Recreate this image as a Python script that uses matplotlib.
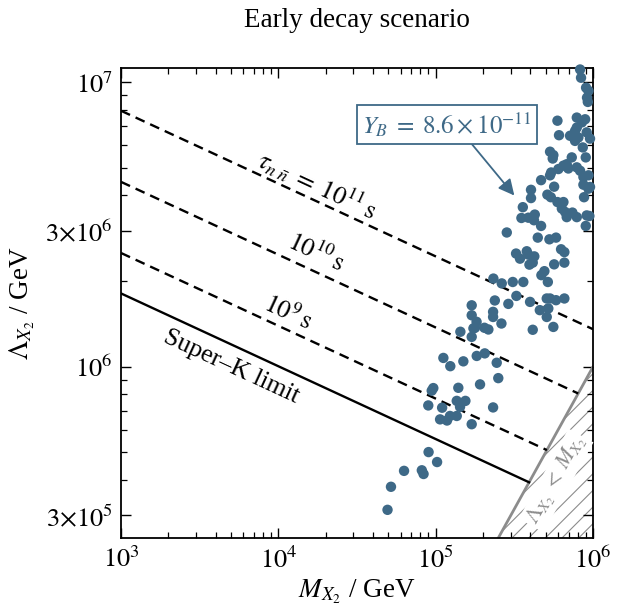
import numpy as np
import matplotlib
matplotlib.use("Agg")
import matplotlib.pyplot as plt
from matplotlib.ticker import FixedLocator, NullFormatter, LogLocator

plt.rcParams['font.family'] = ['Liberation Serif', 'DejaVu Serif']
plt.rcParams['mathtext.fontset'] = 'stix'
plt.rcParams['hatch.linewidth'] = 0.8

# ---- data -------------------------------------------------------------
# scatter points (log10 M_X2 / GeV, log10 Lambda_X2 / GeV)
logM_pts = [4.694, 4.716, 4.799, 4.912, 4.923, 4.955, 5.009, 4.953, 5.041, 5.134,
            5.189, 5.155, 5.365, 5.028, 5.072, 5.091, 5.134, 5.229, 4.985, 4.975,
            5.144, 5.282, 5.398, 5.049, 5.093, 5.176, 5.261, 5.312, 5.388, 5.157,
            5.229, 5.229, 5.229, 5.260, 5.250, 5.240, 5.310, 5.335, 5.365, 5.365,
            5.418, 5.376, 5.462, 5.513, 5.600, 5.706, 5.727, 5.765, 5.818, 5.662,
            5.716, 5.706, 5.748, 5.617, 5.367, 5.420, 5.490, 5.557, 5.713, 5.691,
            5.672, 5.753, 5.818, 5.818, 5.797, 5.596, 5.617, 5.511, 5.536, 5.579,
            5.589, 5.627, 5.452, 5.649, 5.723, 5.765, 5.554, 5.545, 5.589, 5.630,
            5.625, 5.670, 5.606, 5.606, 5.710, 5.732, 5.774, 5.812, 5.802, 5.823,
            5.869, 5.897, 5.833, 5.943, 5.960, 5.977, 5.954, 5.670, 5.727, 5.753,
            5.939, 5.939, 5.971, 5.780, 5.812, 5.833, 5.843, 5.734, 5.897, 5.918,
            5.727, 5.748, 5.744, 5.865, 5.954, 5.935, 5.784, 5.854, 5.886, 5.897,
            5.929, 5.950, 5.960, 5.981, 5.907, 5.886, 5.774, 5.897, 5.962, 5.967,
            5.956, 5.971, 5.924, 5.918, 5.981, 5.971]
logL_pts = [5.497, 5.578, 5.634, 5.636, 5.623, 5.700, 5.665, 5.864, 5.856, 5.880,
            5.880, 5.859, 5.857, 5.815, 5.811, 5.827, 5.827, 5.798, 5.925, 5.916,
            5.926, 5.938, 5.960, 6.031, 6.002, 6.019, 6.038, 6.047, 6.014, 6.123,
            6.105, 6.216, 6.181, 6.158, 6.137, 6.135, 6.137, 6.131, 6.193, 6.175,
            6.152, 6.233, 6.221, 6.249, 6.228, 6.240, 6.240, 6.234, 6.240, 6.199,
            6.205, 6.175, 6.140, 6.130, 6.310, 6.293, 6.298, 6.298, 6.298, 6.336,
            6.322, 6.360, 6.366, 6.403, 6.413, 6.359, 6.366, 6.398, 6.380, 6.406,
            6.394, 6.388, 6.472, 6.454, 6.448, 6.454, 6.561, 6.523, 6.524, 6.535,
            6.515, 6.495, 6.622, 6.593, 6.605, 6.596, 6.579, 6.579, 6.556, 6.544,
            6.542, 6.526, 6.526, 6.596, 6.532, 6.530, 6.495, 6.656, 6.673, 6.633,
            6.667, 6.640, 6.626, 6.695, 6.707, 6.712, 6.697, 6.683, 6.701, 6.689,
            6.756, 6.744, 6.732, 6.736, 6.736, 6.771, 6.814, 6.812, 6.829, 6.841,
            6.859, 6.870, 6.824, 6.802, 6.806, 6.794, 6.865, 6.876, 6.946, 6.931,
            6.981, 6.970, 7.016, 7.045, 6.632, 6.673]

# n-nbar oscillation lifetime contours (s)
tau_lines = [1e9, 1e10, 1e11]
tau_superK = 2.7e8
# contour model: log10 Lambda = logL0 + 0.25*log10(tau/1e9) - slope*(log10 M - 3)
logL0 = 6.40
slope = 0.256

x_ticks = [1e3, 1e4, 1e5, 1e6]
x_ticklabels = [r'$10^{3}$', r'$10^{4}$', r'$10^{5}$', r'$10^{6}$']
y_ticks = [3e5, 1e6, 3e6, 1e7]
y_ticklabels = [r'$3{\times}10^{5}$', r'$10^{6}$', r'$3{\times}10^{6}$', r'$10^{7}$']
xlim = (1e3, 1e6)
ylim = (2.5e5, 1.12e7)

YB_text = r'$Y_B\; =\; 8.6 \times 10^{-11}$'

dot_color = '#3e6987'
grey = '#8c8c8c'

# ---- figure -------------------------------------------------------------
fig = plt.figure(figsize=(6.25, 6.12), dpi=100)
ax_rect = [0.1936, 0.1209, 0.7552, 0.7675]
ax = fig.add_axes(ax_rect)
ax.set_xscale('log')
ax.set_yscale('log')
ax.set_xlim(*xlim)
ax.set_ylim(*ylim)

px_per_dec_x = ax_rect[2] * 625 / np.log10(xlim[1] / xlim[0])
px_per_dec_y = ax_rect[3] * 612 / np.log10(ylim[1] / ylim[0])


def contour(tau, M):
    return 10 ** (logL0 + 0.25 * np.log10(tau / 1e9) - slope * (np.log10(M) - 3))


def end_M(tau):
    # intersection with Lambda = M
    lm = (logL0 + 0.25 * np.log10(tau / 1e9) + 3 * slope) / (1 + slope)
    return min(10 ** lm, xlim[1])


for tau in tau_lines:
    M = np.logspace(3, np.log10(end_M(tau)), 200)
    ax.plot(M, contour(tau, M), color='black', lw=1.7,
            linestyle=(0, (4.2, 2.6)), zorder=3)

M = np.logspace(3, np.log10(end_M(tau_superK)), 200)
ax.plot(M, contour(tau_superK, M), color='black', lw=1.7, zorder=3)

# Lambda < M excluded region
Md = np.logspace(np.log10(ylim[0]), 6, 200)
ax.fill_between(Md, ylim[0], Md, facecolor='none', edgecolor=grey,
                hatch='//', linewidth=0, zorder=1)
ax.plot(Md, Md, color=grey, lw=2.0, zorder=2)

# scatter
ax.scatter(10 ** np.array(logM_pts), 10 ** np.array(logL_pts), s=56,
           color=dot_color, edgecolors='none', zorder=5, clip_on=False)

# labels on lines
ang = -np.degrees(np.arctan(slope * px_per_dec_y / px_per_dec_x))
fs_lab = 18.5
ax.text(10 ** 4.246, 10 ** 6.640, r'$\tau_{n\;\bar{n}}\; =\; 10^{11}\,\mathrm{s}$',
        rotation=ang, ha='center', va='center', rotation_mode='anchor', fontsize=fs_lab)
ax.text(10 ** 4.240, 10 ** 6.402, r'$10^{10}\,\mathrm{s}$',
        rotation=ang, ha='center', va='center', rotation_mode='anchor', fontsize=fs_lab)
ax.text(10 ** 4.062, 10 ** 6.192, r'$10^{9}\,\mathrm{s}$',
        rotation=ang, ha='center', va='center', rotation_mode='anchor', fontsize=fs_lab)
ax.text(10 ** 3.699, 10 ** 5.999, 'Super\u2013K limit',
        rotation=ang, ha='center', va='center', rotation_mode='anchor', fontsize=fs_lab)

diag_ang = np.degrees(np.arctan(px_per_dec_y / px_per_dec_x))
ax.text(10 ** 5.765, 10 ** 5.600, r'$\Lambda_{X_2}\; <\; M_{X_2}$', color=grey,
        rotation=diag_ang, ha='center', va='center', rotation_mode='anchor',
        fontsize=16, zorder=4,
        bbox=dict(boxstyle='square,pad=0.1', facecolor='white', edgecolor='none'))

# annotation
ax.annotate(YB_text, xy=(10 ** 5.50, 10 ** 6.602), xytext=(10 ** 5.0725, 10 ** 6.852),
            ha='center', va='center', fontsize=18, color=dot_color, zorder=6,
            bbox=dict(boxstyle='square,pad=0.2', facecolor='white',
                      edgecolor=dot_color, lw=1.3),
            arrowprops=dict(arrowstyle='-|>', color=dot_color, lw=1.3,
                            mutation_scale=24, relpos=(0.62, 0.0),
                            shrinkA=0, shrinkB=0))

# ticks
ax.xaxis.set_major_locator(FixedLocator(x_ticks))
ax.set_xticklabels(x_ticklabels)
ax.xaxis.set_minor_locator(LogLocator(base=10, subs=np.arange(2, 10)))
ax.xaxis.set_minor_formatter(NullFormatter())
ax.yaxis.set_major_locator(FixedLocator(y_ticks))
ax.set_yticklabels(y_ticklabels)
ax.yaxis.set_minor_locator(LogLocator(base=10, subs=[1, 2, 3, 4, 5, 6, 7, 8, 9]))
ax.yaxis.set_minor_formatter(NullFormatter())
ax.tick_params(which='both', direction='in', top=True, right=True, labelsize=19)
ax.tick_params(which='major', length=7, width=1.0, pad=6)
ax.tick_params(which='minor', length=4, width=0.9)
for sp in ax.spines.values():
    sp.set_linewidth(1.3)

ax.set_xlabel(r'$M_{X_2}$ / GeV', fontsize=19.5, labelpad=4)
ax.set_ylabel(r'$\Lambda_{X_2}$ / GeV', fontsize=19.5, labelpad=6)
ax.set_title('Early decay scenario', fontsize=19.5, pad=30)

fig.savefig('out.png', dpi=100)
